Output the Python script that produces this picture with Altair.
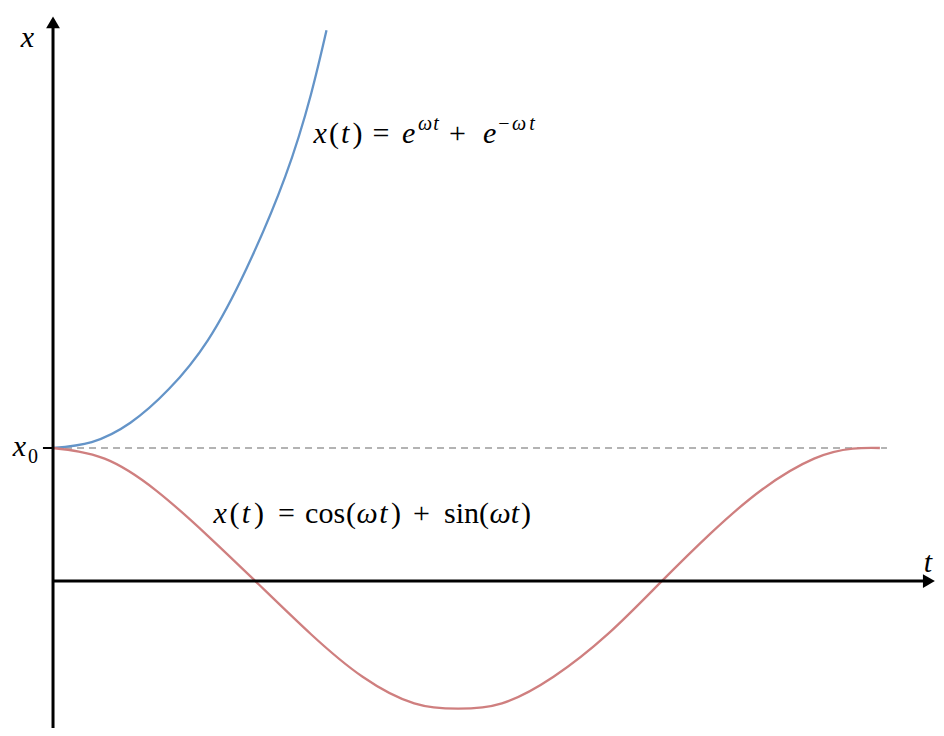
import altair as alt
import pandas as pd

# ---- data (t in radians-like units, x with x0 = 1) ----
blue_t = [0.0, 0.3, 0.6, 0.9, 1.2, 1.5, 1.8, 2.0, 2.12]
blue_x = [1.0, 1.045, 1.19, 1.445, 1.81, 2.35, 3.04, 3.66, 4.14]

red_t = [0.0, 0.4, 0.8, 1.2, 1.6, 2.0, 2.4, 2.8, 3.14, 3.48, 3.88, 4.3, 4.7, 5.1, 5.5, 5.9, 6.2, 6.41]
red_x = [1.0, 0.92, 0.68, 0.34, -0.03, -0.40, -0.72, -0.92, -0.96, -0.92, -0.72, -0.40,
         -0.02, 0.36, 0.69, 0.92, 0.995, 1.0]

x0_level = [1.0]
dash_end = [6.465]

T_DOMAIN = [-0.349, 6.845]
X_DOMAIN = [-1.105, 4.308]

xs = alt.Scale(domain=T_DOMAIN, nice=False, zero=False)
ys = alt.Scale(domain=X_DOMAIN, nice=False, zero=False)

def X(f="t"):
    return alt.X(f"{f}:Q", scale=xs, axis=None)

def Y(f="x"):
    return alt.Y(f"{f}:Q", scale=ys, axis=None)

blue_df = pd.DataFrame({"t": blue_t, "x": blue_x})
red_df = pd.DataFrame({"t": red_t, "x": red_x})

blue = alt.Chart(blue_df).mark_line(color="#6494c8", strokeWidth=2.3, interpolate="natural").encode(
    x=X(), y=Y())
red = alt.Chart(red_df).mark_line(color="#cf7f7f", strokeWidth=2.3, interpolate="natural").encode(
    x=X(), y=Y())

dash_df = pd.DataFrame({"t": [0.0], "t2": dash_end, "x": x0_level})
dashed = alt.Chart(dash_df).mark_rule(color="#9a9a9a", strokeWidth=1.4, strokeDash=[7, 5]).encode(
    x=X(), x2="t2:Q", y=Y())

# axes drawn as rules with arrowheads
yaxis_df = pd.DataFrame({"t": [0.0], "x": [X_DOMAIN[0]], "x2": [4.22]})
yaxis = alt.Chart(yaxis_df).mark_rule(color="black", strokeWidth=3).encode(
    x=X(), y=Y(), y2="x2:Q")
xaxis_df = pd.DataFrame({"t": [0.0], "t2": [6.78], "x": [0.0]})
xaxis = alt.Chart(xaxis_df).mark_rule(color="black", strokeWidth=3).encode(
    x=X(), x2="t2:Q", y=Y())
tick_df = pd.DataFrame({"t": [-0.078], "t2": [0.0], "x": x0_level})
tick = alt.Chart(tick_df).mark_rule(color="black", strokeWidth=2).encode(
    x=X(), x2="t2:Q", y=Y())

up_df = pd.DataFrame({"t": [0.0], "x": [4.20]})
arrow_up = alt.Chart(up_df).mark_point(shape="triangle-up", filled=True, color="black",
                                       size=190, opacity=1).encode(x=X(), y=Y())
right_df = pd.DataFrame({"t": [6.79], "x": [0.0]})
arrow_right = alt.Chart(right_df).mark_point(shape="triangle-right", filled=True, color="black",
                                             size=190, opacity=1).encode(x=X(), y=Y())

FONT = "Liberation Serif"
E1 = 3.293   # baseline of first formula
E1S = 3.390  # baseline of its superscripts
E2 = 0.436   # baseline of second formula

# glyph centres
italic_big = pd.DataFrame({
    "txt": ["x", "t", "x",
            "x", "t", "e", "e",
            "x", "t", "ω", "t", "ω", "t"],
    "t":   [-0.198, 6.783, -0.260,
            2.070, 2.264, 2.756, 3.384,
            1.295, 1.496, 2.434, 2.562, 3.465, 3.581],
    "x":   [4.015, 0.068, 0.940,
            E1, E1, E1, E1,
            E2, E2, E2, E2, E2, E2],
})
upright_big = pd.DataFrame({
    "txt": ["(", ")", "=", "+",
            "(", ")", "=", "cos", "(", ")", "+", "sin", "(", ")"],
    "t":   [2.178, 2.360, 2.543, 3.136,
            1.407, 1.597, 1.810, 2.109, 2.310, 2.659, 2.857, 3.167, 3.341, 3.667],
    "x":   [E1, E1, E1, E1,
            E2, E2, E2, E2, E2, E2, E2, E2, E2, E2],
})
sup_italic = pd.DataFrame({
    "txt": ["ω", "t", "ω", "t"],
    "t":   [2.884, 2.969, 3.612, 3.713],
    "x":   [E1S, E1S, E1S, E1S],
})
small_upright = pd.DataFrame({
    "txt": ["0", "−"],
    "t":   [-0.155, 3.496],
    "x":   [0.887, E1S],
})

def text_layer(df, size, style):
    return alt.Chart(df).mark_text(font=FONT, fontSize=size, fontStyle=style, align="center",
                                   baseline="alphabetic", color="black").encode(
        x=X(), y=Y(), text="txt:N")

labels = (text_layer(italic_big, 30, "italic") + text_layer(upright_big, 30, "normal")
          + text_layer(sup_italic, 20, "italic") + text_layer(small_upright, 20, "normal"))

chart = alt.layer(dashed, blue, red, yaxis, xaxis, tick, arrow_up, arrow_right, labels).properties(
    width=928, height=720, padding=0, autosize=alt.AutoSizeParams(type="none"),
    background="white",
).configure_view(stroke=None)

chart.save("out.html", embed_options={"renderer": "svg", "actions": False})
